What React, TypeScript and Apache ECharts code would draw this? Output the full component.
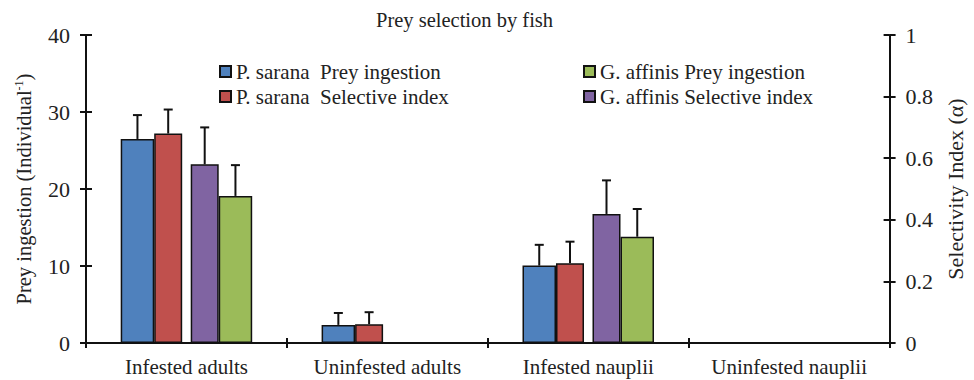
import { useEffect, useRef } from "react";
import * as echarts from "echarts";

const categories = ["Infested adults", "Uninfested adults", "Infested nauplii", "Uninfested nauplii"];
const psIngestion = [26.5, 2.35, 10.05, null];
const psIngestionErr = [3.1, 1.55, 2.7, null];
const psIndex = [0.68, 0.061, 0.259, null];
const psIndexErr = [0.078, 0.039, 0.07, null];
const gaIndex = [0.58, null, 0.419, null];
const gaIndexErr = [0.12, null, 0.109, null];
const gaIngestion = [19.1, null, 13.8, null];
const gaIngestionErr = [4.0, null, 3.6, null];
const leftTicks = [0, 10, 20, 30, 40];
const rightTicks = [0, 0.2, 0.4, 0.6, 0.8, 1];

const FONT = "'Liberation Serif', 'Times New Roman', serif";
const NAMES = [
  "P. sarana  Prey ingestion",
  "P. sarana  Selective index",
  "G. affinis Selective index",
  "G. affinis Prey ingestion",
];
const COLORS = ["#4F81BD", "#C0504D", "#8064A2", "#9BBB59"];
const WIDTHS = [33.5, 28, 8.5, 28, 33.5];

function centers(): number[] {
  const total = WIDTHS.reduce((a, b) => a + b, 0);
  let x = -total / 2;
  const c: number[] = [];
  WIDTHS.forEach((w) => {
    c.push(x + w / 2);
    x += w;
  });
  return [c[0], c[1], c[3], c[4]];
}

export default function App() {
  const ref = useRef<HTMLDivElement>(null);
  useEffect(() => {
    if (!ref.current) return;
    const chart = echarts.init(ref.current, undefined, { renderer: "svg" });
    const offs = centers();
    const toData = (vals: (number | null)[]) => vals.map((v) => (v == null ? "-" : v));
    const errData = (vals: (number | null)[], errs: (number | null)[]) =>
      vals
        .map((v, i) => (v == null || errs[i] == null ? null : [i, v, errs[i]]))
        .filter((d) => d !== null);
    const errSeries = (vals: any, errs: any, yIdx: number, off: number) => ({
      type: "custom",
      xAxisIndex: 0,
      yAxisIndex: yIdx,
      z: 10,
      silent: true,
      encode: { x: 0, y: 1 },
      data: errData(vals, errs),
      renderItem: (params: any, api: any) => {
        const x = api.value(0);
        const v = api.value(1);
        const e = api.value(2);
        const base = api.coord([x, v]);
        const top = api.coord([x, v + e]);
        const cx = base[0] + off;
        return {
          type: "group",
          children: [
            { type: "line", shape: { x1: cx, y1: base[1], x2: cx, y2: top[1] }, style: { stroke: "#111", lineWidth: 2 } },
            { type: "line", shape: { x1: cx - 4.5, y1: top[1], x2: cx + 4.5, y2: top[1] }, style: { stroke: "#111", lineWidth: 2 } },
          ],
        };
      },
    });
    const barStyle = (c: string) => ({ color: c, borderColor: "#111", borderWidth: 1.5 });
    const axisLine = { show: true, lineStyle: { color: "#111", width: 2 } };
    const tickLabel = { fontFamily: FONT, fontSize: 22, color: "#222" };
    chart.setOption({
      animation: false,
      title: {
        text: "Prey selection by fish",
        left: 371,
        top: 4,
        textStyle: { fontFamily: FONT, fontSize: 20.5, fontWeight: "normal", color: "#222" },
      },
      legend: [
        {
          data: [NAMES[0], NAMES[1]],
          orient: "vertical",
          left: 214,
          top: 56,
          itemWidth: 11,
          itemHeight: 11,
          itemGap: 4,
          icon: "rect",
          textStyle: { fontFamily: FONT, fontSize: 21, color: "#222" },
        },
        {
          data: [NAMES[3], NAMES[2]],
          orient: "vertical",
          left: 578,
          top: 56,
          itemWidth: 11,
          itemHeight: 11,
          itemGap: 4,
          icon: "rect",
          textStyle: { fontFamily: FONT, fontSize: 21, color: "#222" },
        },
      ],
      grid: { left: 86, right: 76, top: 35, bottom: 37, containLabel: false },
      xAxis: [
        {
          type: "category",
          data: categories,
          boundaryGap: true,
          axisLine,
          axisTick: { show: true, inside: false, interval: 0, length: 5, lineStyle: { color: "#111", width: 2 } },
          axisLabel: { fontFamily: FONT, fontSize: 21, color: "#222", margin: 13, interval: 0 },
          splitLine: { show: false },
        },
        {
          type: "category",
          data: categories,
          position: "bottom",
          boundaryGap: true,
          axisLine: { show: false },
          axisTick: { show: true, inside: true, interval: 0, length: 5, lineStyle: { color: "#111", width: 2 } },
          axisLabel: { show: false, interval: 0 },
          splitLine: { show: false },
        },
      ],
      yAxis: [
        {
          type: "value",
          min: leftTicks[0],
          max: leftTicks[leftTicks.length - 1],
          interval: 10,
          position: "left",
          name: "Prey ingestion (Individual{sup|-1})",
          nameLocation: "middle",
          nameGap: 52,
          nameTextStyle: {
            fontFamily: FONT,
            fontSize: 20.5,
            color: "#222",
            rich: { sup: { fontFamily: FONT, fontSize: 12, color: "#222", verticalAlign: "top", padding: [0, 0, 8, 0] } },
          },
          axisLine,
          axisTick: { show: true, inside: false, length: 6, lineStyle: { color: "#111", width: 2 } },
          axisLabel: { ...tickLabel, margin: 16 },
          splitLine: { show: false },
        },
        {
          type: "value",
          min: rightTicks[0],
          max: rightTicks[rightTicks.length - 1],
          interval: 0.2,
          position: "right",
          name: "Selectivity Index (α)",
          nameLocation: "middle",
          nameGap: 54,
          nameRotate: 90,
          nameTextStyle: { fontFamily: FONT, fontSize: 22, color: "#222" },
          axisLine,
          axisTick: { show: true, inside: false, length: 6, lineStyle: { color: "#111", width: 2 } },
          axisLabel: { ...tickLabel, margin: 16 },
          splitLine: { show: false },
        },
        {
          type: "value",
          min: 0,
          max: 40,
          interval: 10,
          position: "left",
          axisLine: { show: false },
          axisTick: { show: true, inside: true, length: 6, lineStyle: { color: "#111", width: 2 } },
          axisLabel: { show: false },
          splitLine: { show: false },
        },
        {
          type: "value",
          min: 0,
          max: 1,
          interval: 0.2,
          position: "right",
          axisLine: { show: false },
          axisTick: { show: true, inside: true, length: 6, lineStyle: { color: "#111", width: 2 } },
          axisLabel: { show: false },
          splitLine: { show: false },
        },
      ],
      series: [
        { name: NAMES[0], type: "bar", xAxisIndex: 0, yAxisIndex: 0, barWidth: WIDTHS[0], barGap: 0, data: toData(psIngestion), itemStyle: barStyle(COLORS[0]) },
        { name: NAMES[1], type: "bar", xAxisIndex: 0, yAxisIndex: 1, barWidth: WIDTHS[1], barGap: 0, data: toData(psIndex), itemStyle: barStyle(COLORS[1]) },
        { name: "spacer", type: "bar", xAxisIndex: 0, yAxisIndex: 0, barWidth: WIDTHS[2], barGap: 0, data: [0, 0, 0, 0], itemStyle: { color: "transparent", borderWidth: 0 }, silent: true },
        { name: NAMES[2], type: "bar", xAxisIndex: 0, yAxisIndex: 1, barWidth: WIDTHS[3], barGap: 0, data: toData(gaIndex), itemStyle: barStyle(COLORS[2]) },
        { name: NAMES[3], type: "bar", xAxisIndex: 0, yAxisIndex: 0, barWidth: WIDTHS[4], barGap: 0, data: toData(gaIngestion), itemStyle: barStyle(COLORS[3]) },
        errSeries(psIngestion, psIngestionErr, 0, offs[0]),
        errSeries(psIndex, psIndexErr, 1, offs[1]),
        errSeries(gaIndex, gaIndexErr, 1, offs[2]),
        errSeries(gaIngestion, gaIngestionErr, 0, offs[3]),
      ],
    });
    return () => chart.dispose();
  }, []);
  return <div ref={ref} style={{ width: 974, height: 380, position: "absolute", left: 0, top: 0 }} />;
}
